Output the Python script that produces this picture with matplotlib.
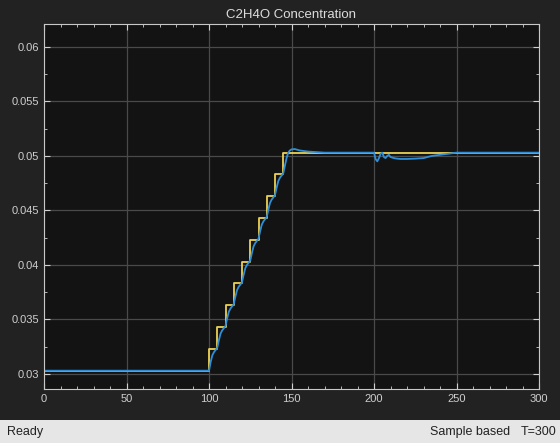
import matplotlib.pyplot as plt
from matplotlib.patches import Rectangle
from matplotlib.ticker import MultipleLocator

plt.rcParams['font.family'] = ['Liberation Sans', 'DejaVu Sans']

# reference (staircase setpoint)
ref_t = [0, 100, 105, 110, 115, 120, 125, 130, 135, 140, 145, 300]
ref_y = [0.0303, 0.0323, 0.0343, 0.0363, 0.0383, 0.0403, 0.0423,
         0.0443, 0.0463, 0.0483, 0.0503, 0.0503]

# measured concentration
meas_t = [0, 100, 101, 102, 103, 104, 105, 106, 107, 108, 109, 110,
          111, 112, 113, 114, 115, 116, 117, 118, 119, 120,
          121, 122, 123, 124, 125, 126, 127, 128, 129, 130,
          131, 132, 133, 134, 135, 136, 137, 138, 139, 140,
          141, 142, 143, 144, 145, 146, 147, 148, 149, 150,
          152, 155, 160, 170, 200, 201, 202, 203, 204, 205,
          206, 207, 208, 209, 210, 211, 212, 214, 216, 220,
          225, 230, 235, 240, 245, 250, 300]
meas_y = [0.0303, 0.0303, 0.0311, 0.0317, 0.0320, 0.0322, 0.0324,
          0.0331, 0.0337, 0.0340, 0.0342, 0.0344,
          0.0351, 0.0357, 0.0360, 0.0362, 0.0364,
          0.0371, 0.0377, 0.0380, 0.0382, 0.0384,
          0.0391, 0.0397, 0.0400, 0.0402, 0.0404,
          0.0411, 0.0417, 0.0420, 0.0422, 0.0424,
          0.0431, 0.0437, 0.0440, 0.0442, 0.0444,
          0.0451, 0.0457, 0.0460, 0.0462, 0.0464,
          0.0471, 0.0477, 0.0480, 0.0482, 0.0484,
          0.0491, 0.0498, 0.0503, 0.0505, 0.0506,
          0.05063, 0.0505, 0.0504, 0.0503, 0.0503,
          0.0497, 0.0495, 0.0498, 0.0502, 0.0503,
          0.0499, 0.0498, 0.0500, 0.0501, 0.0499, 0.04985, 0.0498,
          0.04975, 0.04972, 0.04972, 0.04975, 0.0498, 0.0500,
          0.0501, 0.0502, 0.0503, 0.0503]

fig = plt.figure(figsize=(5.6, 4.43), dpi=100)
fig.patch.set_facecolor("#222222")

ax = fig.add_axes([44 / 560, 54 / 443, 495 / 560, 365 / 443])
ax.set_facecolor("#131313")

ax.step(ref_t, ref_y, where="post", color="#ecd155", lw=1.3)
ax.plot(meas_t, meas_y, color="#2e8fd8", lw=1.3)

ax.set_xlim(0, 300)
ax.set_ylim(0.02862, 0.0621)
ax.xaxis.set_major_locator(MultipleLocator(50))
ax.xaxis.set_minor_locator(MultipleLocator(10))
ax.yaxis.set_minor_locator(MultipleLocator(0.0025))
ax.set_yticks([0.03, 0.035, 0.04, 0.045, 0.05, 0.055, 0.06])
ax.set_yticklabels(["0.03", "0.035", "0.04", "0.045", "0.05", "0.055", "0.06"])
ax.grid(True, which="major", color="#4a4a4a", lw=0.9)
ax.tick_params(which="both", direction="in", top=True, right=True,
               colors="#d0d0d0", labelcolor="#cfcfcf", labelsize=8)
ax.tick_params(which="major", length=4)
ax.tick_params(which="minor", length=2)
for sp in ax.spines.values():
    sp.set_edgecolor("#c8c8c8")
    sp.set_linewidth(0.8)
ax.set_title("C2H4O Concentration", color="#dcdcdc", fontsize=9.5, pad=4)

# status bar
fig.patches.append(Rectangle((0, 0), 1, 23 / 443, transform=fig.transFigure,
                             facecolor="#e6e6e6", edgecolor="none"))
fig.text(7 / 560, 11 / 443, "Ready", fontsize=9, color="#222222", va="center")
fig.text(510 / 560, 11 / 443, "Sample based", fontsize=9,
         color="#222222", va="center", ha="right")
fig.text(556 / 560, 11 / 443, "T=300", fontsize=9,
         color="#222222", va="center", ha="right")

plt.savefig("out.png", dpi=100, facecolor=fig.get_facecolor())
